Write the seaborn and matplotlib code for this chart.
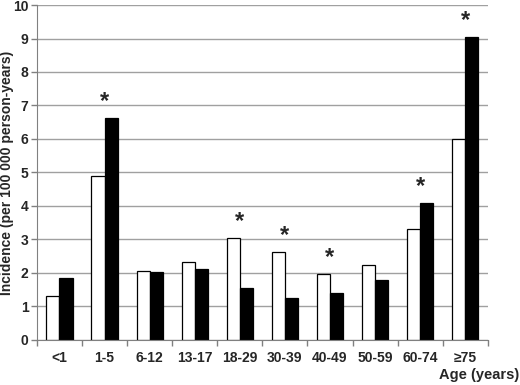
import pandas as pd
import matplotlib.pyplot as plt
import seaborn as sns

# Age groups and incidence per 100 000 person-years
age_groups = ['<1', '1-5', '6-12', '13-17', '18-29', '30-39', '40-49', '50-59', '60-74', '≥75']
white_vals = [1.3, 4.9, 2.07, 2.33, 3.03, 2.63, 1.97, 2.24, 3.3, 6.0]
black_vals = [1.85, 6.62, 2.03, 2.12, 1.56, 1.24, 1.4, 1.8, 4.1, 9.03]
significant = [False, True, False, False, True, True, True, False, True, True]

df = pd.DataFrame({
    'Age': age_groups * 2,
    'Incidence': white_vals + black_vals,
    'Group': ['A'] * len(age_groups) + ['B'] * len(age_groups),
})

sns.set_style('white')
plt.rcParams['font.family'] = ['Liberation Sans', 'DejaVu Sans']

fig = plt.figure(figsize=(5.2, 3.85), dpi=100)
ax = fig.add_axes([0.071, 0.117, 0.867, 0.870])

sns.barplot(data=df, x='Age', y='Incidence', hue='Group', palette=['white', 'black'],
            edgecolor='black', linewidth=0.9, width=0.58, gap=0, legend=False, ax=ax)

# Asterisks over significant groups
for i, (w, b, s) in enumerate(zip(white_vals, black_vals, significant)):
    if s:
        ax.text(i, max(w, b) + 0.15, '*', ha='center', va='bottom',
                fontsize=17, fontweight='bold')

ax.set_ylim(0, 10)
ax.set_xlim(-0.5, len(age_groups) - 0.5)
ax.set_yticks(range(0, 11))
ax.yaxis.grid(True, color='#a0a0a0', linewidth=1.0)
ax.set_axisbelow(True)

ax.set_xticks(range(len(age_groups)))
ax.set_xticklabels(age_groups, fontsize=10, fontweight='bold')
ax.set_xticks([i - 0.5 for i in range(len(age_groups) + 1)], minor=True)
ax.tick_params(axis='x', which='major', length=0, pad=8)
ax.tick_params(axis='x', which='minor', length=4, color='#808080', width=1, direction='out', bottom=True)
ax.tick_params(axis='y', length=4, color='#808080', width=1, direction='out', left=True,
               labelsize=10, pad=2)
for lab in ax.get_yticklabels():
    lab.set_fontweight('bold')

for side in ['top', 'right']:
    ax.spines[side].set_visible(False)
ax.spines['left'].set_color('#808080')
ax.spines['bottom'].set_color('#808080')

ax.set_xlabel('')
ax.set_ylabel('Incidence (per 100 000 person-years)', fontsize=10, fontweight='bold')
ax.yaxis.set_label_coords(-0.05, 0.5)
fig.text(0.998, 0.008, 'Age (years)', ha='right', va='bottom', fontsize=10.5, fontweight='bold')

fig.savefig('out.png', dpi=100)
